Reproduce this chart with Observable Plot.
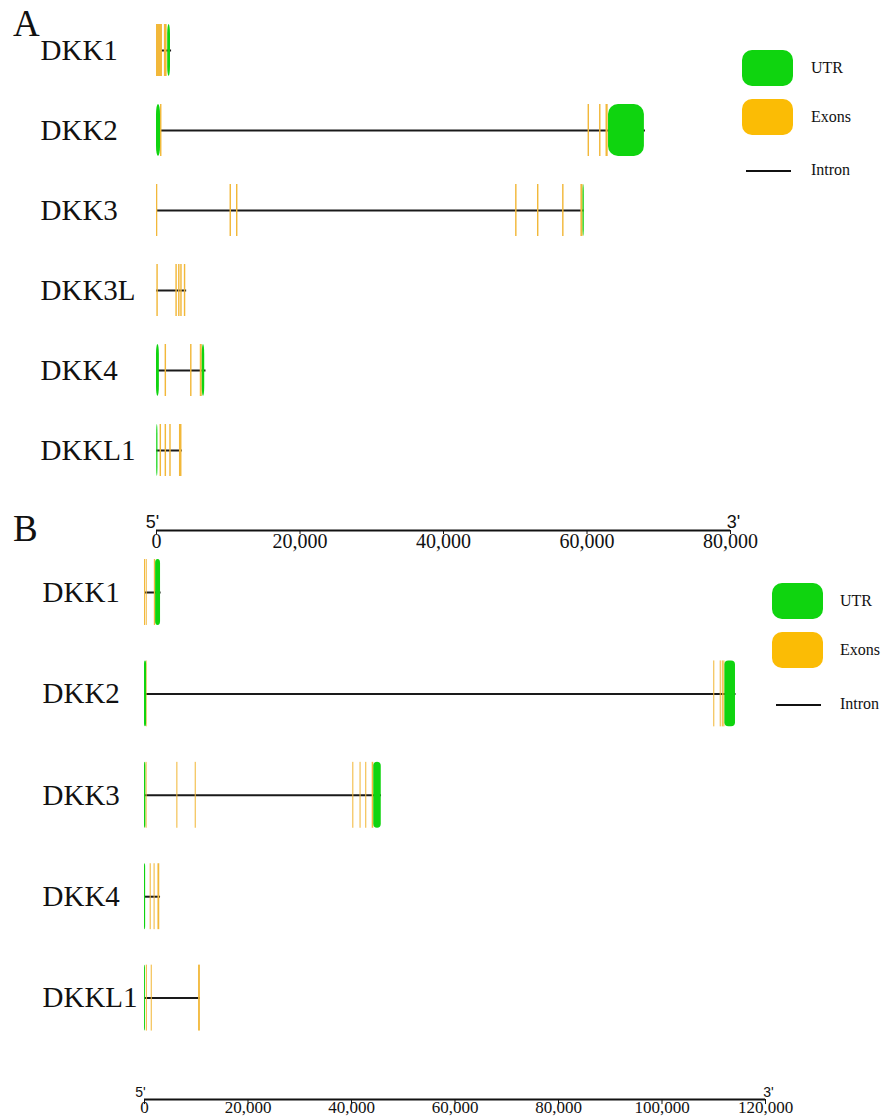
<!DOCTYPE html>
<html><head><meta charset="utf-8">
<script src="https://cdn.jsdelivr.net/npm/d3@7"></script>
<script src="https://cdn.jsdelivr.net/npm/@observablehq/plot@0.6"></script>
<style>
body{margin:0;background:#fff;}
#wrap{position:relative;width:883px;height:1120px;background:#fff;overflow:hidden;font-family:"Liberation Serif","Times New Roman",serif;color:#111;}
.panel{position:absolute;left:0;}
.letter{position:absolute;font-size:37px;line-height:1;}
.box{position:absolute;border-radius:10px;}
.iline{position:absolute;height:2px;background:#111;}
.ltxt{position:absolute;font-size:16px;line-height:1;transform:translateY(-50%);}
</style></head><body>
<div id="wrap">
  <div class="panel" id="panelA" style="top:0"></div>
  <div class="panel" id="panelB" style="top:545px"></div>
  <div class="letter" style="left:13px;top:5px">A</div>
  <div class="letter" style="left:13px;top:510px">B</div>
  <div id="legA"></div>
  <div id="legB"></div>
</div>
<script>
// ---------- Panel A data (bp) ----------
const genesA = ["DKK1","DKK2","DKK3","DKK3L","DKK4","DKKL1"];
const intronsA = [
  {gene:"DKK1", start:0, end:2100},
  {gene:"DKK2", start:0, end:68150},
  {gene:"DKK3", start:0, end:59600},
  {gene:"DKK3L", start:0, end:4200},
  {gene:"DKK4", start:0, end:6900},
  {gene:"DKKL1", start:0, end:3600}
];
const exonsA = [
  {gene:"DKK1", start:0, end:830}, {gene:"DKK1", start:1100, end:1480},
  {gene:"DKK2", start:560, end:760}, {gene:"DKK2", start:60150, end:60350}, {gene:"DKK2", start:61750, end:61950}, {gene:"DKK2", start:62650, end:62950},
  {gene:"DKK3", start:0, end:180}, {gene:"DKK3", start:10250, end:10450}, {gene:"DKK3", start:11150, end:11350},
  {gene:"DKK3", start:50050, end:50250}, {gene:"DKK3", start:53100, end:53300}, {gene:"DKK3", start:56600, end:56800}, {gene:"DKK3", start:59150, end:59450},
  {gene:"DKK3L", start:50, end:250}, {gene:"DKK3L", start:2700, end:2900}, {gene:"DKK3L", start:3080, end:3280}, {gene:"DKK3L", start:3380, end:3580}, {gene:"DKK3L", start:3880, end:4080},
  {gene:"DKK4", start:1200, end:1400}, {gene:"DKK4", start:4750, end:4950}, {gene:"DKK4", start:6100, end:6380},
  {gene:"DKKL1", start:500, end:700}, {gene:"DKKL1", start:1200, end:1400}, {gene:"DKKL1", start:1850, end:2050}, {gene:"DKKL1", start:3200, end:3550}
];
const utrsA = [
  {gene:"DKK1", start:1560, end:1950},
  {gene:"DKK2", start:0, end:560}, {gene:"DKK2", start:63000, end:68000},
  {gene:"DKK3", start:59450, end:59620},
  {gene:"DKK4", start:0, end:400}, {gene:"DKK4", start:6380, end:6720},
  {gene:"DKKL1", start:30, end:200}
];
const ticksA = [0, 20000, 40000, 60000, 80000];

// ---------- Panel B data (bp) ----------
const genesB = ["DKK1","DKK2","DKK3","DKK4","DKKL1"];
const intronsB = [
  {gene:"DKK1", start:0, end:3200},
  {gene:"DKK2", start:0, end:114300},
  {gene:"DKK3", start:0, end:45800},
  {gene:"DKK4", start:0, end:3100},
  {gene:"DKKL1", start:0, end:10800}
];
const exonsB = [
  {gene:"DKK1", start:0, end:200}, {gene:"DKK1", start:330, end:530}, {gene:"DKK1", start:1900, end:2150},
  {gene:"DKK2", start:400, end:520}, {gene:"DKK2", start:110000, end:110200}, {gene:"DKK2", start:111250, end:111450}, {gene:"DKK2", start:111650, end:111850}, {gene:"DKK2", start:111950, end:112150},
  {gene:"DKK3", start:300, end:500}, {gene:"DKK3", start:6250, end:6450}, {gene:"DKK3", start:9800, end:10000},
  {gene:"DKK3", start:40250, end:40450}, {gene:"DKK3", start:41650, end:41850}, {gene:"DKK3", start:42750, end:42950}, {gene:"DKK3", start:44000, end:44300},
  {gene:"DKK4", start:1100, end:1300}, {gene:"DKK4", start:1850, end:2050}, {gene:"DKK4", start:2600, end:2950},
  {gene:"DKKL1", start:350, end:550}, {gene:"DKKL1", start:1300, end:1500}, {gene:"DKKL1", start:10450, end:10800}
];
const utrsB = [
  {gene:"DKK1", start:2150, end:3100},
  {gene:"DKK2", start:0, end:400}, {gene:"DKK2", start:112150, end:114200},
  {gene:"DKK3", start:0, end:250}, {gene:"DKK3", start:44300, end:45750},
  {gene:"DKK4", start:0, end:220},
  {gene:"DKKL1", start:0, end:180}
];
const ticksB = [0, 20000, 40000, 60000, 80000, 100000, 120000];

const legendItems = ["UTR", "Exons", "Intron"];

// ---------- styles ----------
const UTR_COLOR = "#0fd40f";
const EXON_COLOR = "#f2b83a";
const LEG_EXON = "#fbbc05";
const SERIF = "'Liberation Serif','Times New Roman',serif";
const SANS = "'Liberation Sans Narrow','Liberation Sans',Arial,sans-serif";
const HALF = 0.325;

function panel(o) {
  const n = o.genes.length;
  const gi = g => o.genes.indexOf(g);
  const fmt = d3.format(",");
  const x0 = d3.min(o.ticks), x1 = d3.max(o.ticks);
  return Plot.plot({
    width: 883, height: o.height,
    marginTop: 0, marginRight: 0, marginBottom: 0, marginLeft: 0,
    style: {background: "transparent", overflow: "visible"},
    x: {domain: [x0, x1], range: o.xrange, axis: null},
    y: {domain: [0, n], range: o.yrange, axis: null},
    marks: [
      Plot.ruleY(o.introns, {y: d => gi(d.gene), x1: "start", x2: "end", stroke: "#1a1a1a", strokeWidth: 2}),
      Plot.rect(o.exons, {x1: "start", x2: "end", y1: d => gi(d.gene) - HALF, y2: d => gi(d.gene) + HALF, fill: EXON_COLOR}),
      Plot.rect(o.utrs, {x1: "start", x2: "end", y1: d => gi(d.gene) - HALF, y2: d => gi(d.gene) + HALF, fill: UTR_COLOR, rx: o.rx}),
      Plot.text(o.genes, {y: (d, i) => i, frameAnchor: "left", dx: o.labelX, textAnchor: "start", text: d => d, fontSize: o.labelSize, fontFamily: SERIF, fill: "#111"}),
      // custom axis
      Plot.ruleY([n], {x1: x0, x2: x1, stroke: "#111", strokeWidth: 2}),
      Plot.ruleX(o.ticks, {x: d => d, y1: n, y2: n + 0.05, stroke: "#111", strokeWidth: 1}),
      Plot.text(o.ticks, {x: d => d, y: n, dy: o.tickDy, lineAnchor: "top", text: d => fmt(d), fontSize: o.tickSize, fontFamily: SERIF, fill: "#111"}),
      Plot.text(["5'"], {x: x0, y: n, dx: -4, dy: o.endDy, lineAnchor: "bottom", text: d => d, fontSize: o.endSize, fontFamily: SANS, fill: "#111"}),
      Plot.text(["3'"], {x: x1, y: n, dx: 3, dy: o.endDy, lineAnchor: "bottom", text: d => d, fontSize: o.endSize, fontFamily: SANS, fill: "#111"})
    ]
  });
}

document.getElementById("panelA").append(panel({
  genes: genesA, introns: intronsA, exons: exonsA, utrs: utrsA, ticks: ticksA,
  height: 560, xrange: [156, 730], yrange: [50, 530],
  labelX: 40, labelSize: 29, tickDy: 3, tickSize: 20, endDy: -3, endSize: 18, rx: 10
}));
document.getElementById("panelB").append(panel({
  genes: genesB, introns: intronsB, exons: exonsB, utrs: utrsB, ticks: ticksB,
  height: 575, xrange: [144, 765], yrange: [47, 554],
  labelX: 42, labelSize: 29, tickDy: 1, tickSize: 17, endDy: -3, endSize: 14, rx: 4
}));

// ---------- legends (HTML) ----------
function legend(el, left, textLeft, tops) {
  const colors = [UTR_COLOR, LEG_EXON];
  legendItems.forEach((name, i) => {
    if (i < 2) {
      const b = document.createElement("div");
      b.className = "box";
      Object.assign(b.style, {left: left + "px", top: tops[i] + "px", width: "51px", height: "36px", background: colors[i]});
      el.append(b);
    } else {
      const l = document.createElement("div");
      l.className = "iline";
      Object.assign(l.style, {left: (left + 4) + "px", top: tops[i] + "px", width: "45px"});
      el.append(l);
    }
    const t = document.createElement("div");
    t.className = "ltxt";
    t.textContent = name;
    const cy = i < 2 ? tops[i] + 18 : tops[i];
    Object.assign(t.style, {left: textLeft + "px", top: cy + "px"});
    el.append(t);
  });
}
legend(document.getElementById("legA"), 742, 811, [50, 99, 170]);
legend(document.getElementById("legB"), 772, 840, [583, 632, 704]);
</script>
</body></html>
